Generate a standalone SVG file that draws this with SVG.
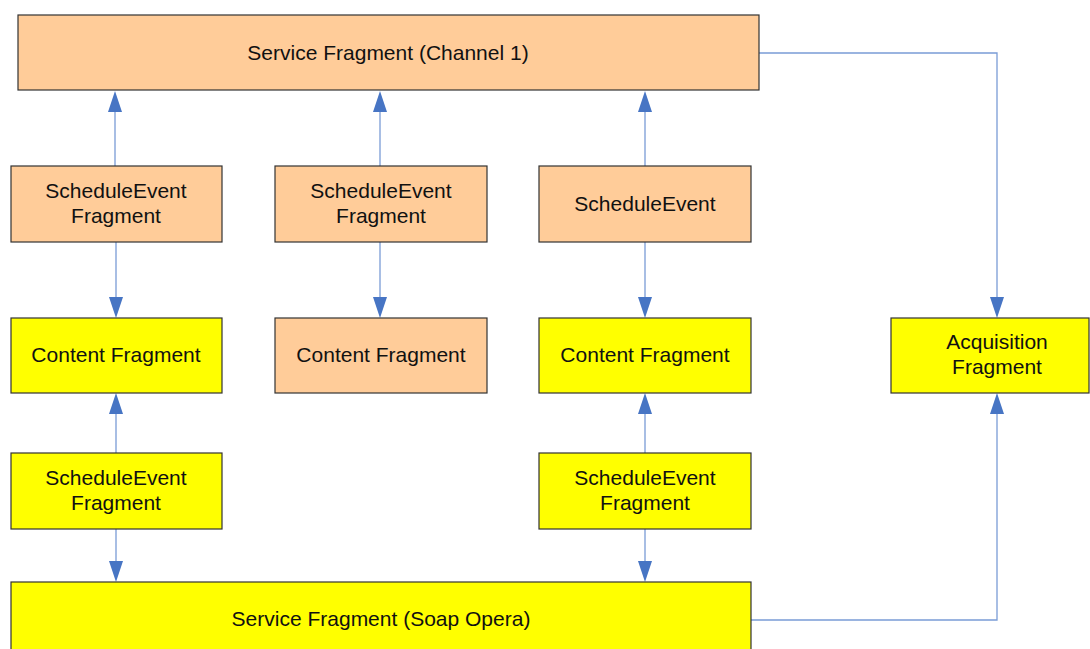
<svg xmlns="http://www.w3.org/2000/svg" width="1090" height="649" viewBox="0 0 1090 649">
<style>
.box{stroke:#333;stroke-width:1.2}
.o{fill:#FFCC99}
.y{fill:#FFFF00}
text{font-family:"Liberation Sans",Arial,sans-serif;font-size:21px;fill:#111;text-anchor:middle}
.c{fill:none;stroke:#7A9CD6;stroke-width:1.3}
.h{fill:#4775C4}
</style>
<rect width="1090" height="649" fill="#fff"/>
<g id="connectors">
<path class="c" d="M115,166V110M380,166V110M645,166V110"/>
<path class="c" d="M116,242V300M380,242V300M645,242V300"/>
<path class="c" d="M116,453V412M645,453V412"/>
<path class="c" d="M116,529V564M645,529V564"/>
<path class="c" d="M759,53H997V300"/>
<path class="c" d="M751,620H997V412"/>
<g class="h">
<path d="M115,91l-7,21h14z"/><path d="M380,91l-7,21h14z"/><path d="M645,91l-7,21h14z"/>
<path d="M116,318l-7,-21h14z"/><path d="M380,318l-7,-21h14z"/><path d="M645,318l-7,-21h14z"/>
<path d="M116,393l-7,21h14z"/><path d="M645,393l-7,21h14z"/>
<path d="M116,582l-7,-21h14z"/><path d="M645,582l-7,-21h14z"/>
<path d="M997,318l-7,-21h14z"/><path d="M997,393l-7,21h14z"/>
</g>
</g>
<g id="svc1"><rect class="box o" x="18" y="15" width="741" height="75"/><text x="388" y="60">Service Fragment (Channel 1)</text></g>
<g id="se1"><rect class="box o" x="11" y="166" width="211" height="76"/><text x="116" y="198">ScheduleEvent</text><text x="116" y="223">Fragment</text></g>
<g id="se2"><rect class="box o" x="275" y="166" width="212" height="76"/><text x="381" y="198">ScheduleEvent</text><text x="381" y="223">Fragment</text></g>
<g id="se3"><rect class="box o" x="539" y="166" width="212" height="76"/><text x="645" y="211">ScheduleEvent</text></g>
<g id="cf1"><rect class="box y" x="11" y="318" width="211" height="75"/><text x="116" y="362">Content Fragment</text></g>
<g id="cf2"><rect class="box o" x="275" y="318" width="212" height="75"/><text x="381" y="362">Content Fragment</text></g>
<g id="cf3"><rect class="box y" x="539" y="318" width="212" height="75"/><text x="645" y="362">Content Fragment</text></g>
<g id="acq"><rect class="box y" x="891" y="318" width="198" height="75"/><text x="997" y="349">Acquisition</text><text x="997" y="374">Fragment</text></g>
<g id="se4"><rect class="box y" x="11" y="453" width="211" height="76"/><text x="116" y="485">ScheduleEvent</text><text x="116" y="510">Fragment</text></g>
<g id="se5"><rect class="box y" x="539" y="453" width="212" height="76"/><text x="645" y="485">ScheduleEvent</text><text x="645" y="510">Fragment</text></g>
<g id="svc2"><rect class="box y" x="11" y="582" width="740" height="80"/><text x="381" y="626">Service Fragment (Soap Opera)</text></g>
</svg>
